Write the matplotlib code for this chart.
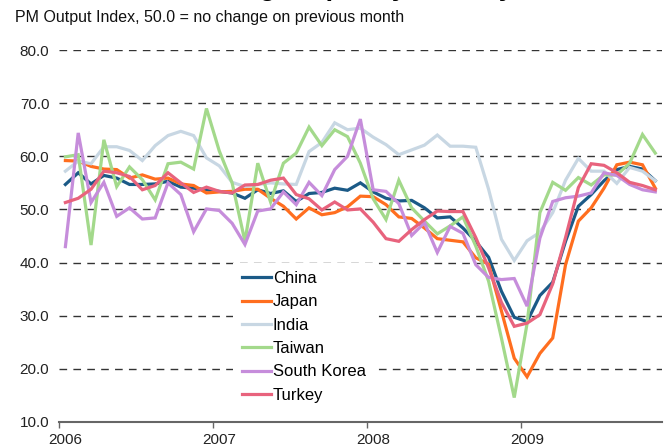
import numpy as np
import matplotlib.pyplot as plt
from matplotlib.ticker import FixedLocator, FuncFormatter

# monthly PMI output index, Jan 2006 .. Nov 2009
china = [54.7, 56.9, 54.8, 56.4, 55.9, 54.7, 54.7, 54.8, 55.3, 54.2, 54.0, 53.7,
         53.4, 53.1, 52.1, 53.7, 53.0, 53.5, 51.5, 53.0, 53.2, 54.0, 53.6, 55.0,
         53.3, 52.1, 51.6, 51.7, 50.3, 48.4, 48.6, 46.5, 44.0, 41.0, 34.6, 29.7,
         28.9, 33.8, 36.3, 44.0, 50.6, 52.8, 55.4, 57.5, 58.1, 57.6, 55.4]
japan = [59.2, 59.1, 58.1, 57.6, 57.5, 55.9, 56.5, 55.7, 55.9, 54.8, 54.5, 53.1,
         53.3, 53.4, 53.8, 53.8, 52.1, 50.6, 48.2, 50.3, 49.0, 49.4, 50.5, 52.5,
         52.4, 50.9, 48.6, 48.3, 46.5, 44.5, 44.2, 43.9, 40.9, 39.7, 30.9, 22.0,
         18.5, 22.9, 25.8, 39.6, 47.8, 50.3, 54.0, 58.4, 58.9, 58.4, 54.0]
india = [57.2, 59.1, 58.6, 61.8, 61.8, 61.1, 59.2, 62.0, 63.9, 64.7, 63.9, 59.7,
         58.2, 55.1, 54.3, 54.7, 55.0, 54.8, 54.7, 60.9, 62.6, 66.3, 65.0, 65.3,
         63.6, 62.2, 60.3, 61.2, 62.1, 64.0, 61.9, 61.9, 61.7, 53.8, 44.4, 40.4,
         44.1, 45.7, 49.4, 55.5, 59.6, 57.2, 57.2, 54.9, 57.9, 57.2, 55.4]
taiwan = [59.9, 60.3, 43.3, 63.1, 54.3, 58.0, 55.6, 51.8, 58.6, 58.9, 57.6, 69.0,
          61.0, 55.0, 44.0, 58.7, 51.4, 58.7, 60.6, 65.5, 62.0, 65.0, 63.7, 58.7,
          52.0, 48.1, 55.5, 50.3, 47.8, 45.4, 46.9, 48.6, 43.1, 36.5, 25.8, 14.6,
          28.5, 49.4, 55.1, 53.6, 56.0, 54.6, 56.5, 56.5, 58.7, 64.1, 60.6]
south_korea = [43.0, 64.4, 51.3, 55.1, 48.7, 50.3, 48.2, 48.4, 55.0, 52.8, 45.8, 50.1,
               49.8, 47.4, 43.4, 49.7, 50.1, 53.3, 50.9, 55.1, 52.6, 57.5, 60.0, 67.0,
               53.7, 53.4, 51.1, 45.1, 47.5, 41.9, 46.8, 45.5, 39.6, 37.2, 36.8, 37.0,
               31.8, 44.6, 51.5, 52.2, 52.5, 53.1, 56.9, 56.4, 54.7, 53.7, 53.3]
turkey = [51.3, 52.1, 53.8, 57.2, 56.9, 56.2, 53.7, 54.5, 56.9, 55.0, 53.2, 54.2,
          53.4, 53.1, 54.6, 54.7, 55.5, 55.9, 52.8, 52.0, 49.9, 51.4, 49.9, 50.1,
          47.6, 44.5, 44.0, 46.2, 48.1, 49.7, 49.6, 49.6, 44.7, 39.0, 32.5, 28.0,
          28.6, 30.2, 36.0, 44.7, 54.1, 58.6, 58.3, 56.9, 55.1, 54.5, 53.7]

series = ['China', 'Japan', 'India', 'Taiwan', 'South Korea', 'Turkey']
values = [china, japan, india, taiwan, south_korea, turkey]
colors = ['#1b5a87', '#ff6e1f', '#c8d7e3', '#a3d98b', '#c68ddb', '#e8637d']
years = ['2006', '2007', '2008', '2009']

plt.rcParams['font.family'] = ['Liberation Sans', 'DejaVu Sans']

fig = plt.figure(figsize=(6.68, 4.45), dpi=100)
ax = fig.add_axes([0.0883, 0.0517, 0.9023, 0.8359])

months = np.arange(len(china)) + 0.5
for name, vals, col in zip(series, values, colors):
    ax.plot(months, vals, color=col, lw=2.3, label=name, solid_joinstyle='miter')

ax.set_xlim(0, 47)
ax.set_ylim(10, 80)
ax.set_yticks(np.arange(10, 81, 10))
ax.yaxis.set_major_formatter(FuncFormatter(lambda v, p: f'{v:.1f}'))
for v in range(20, 81, 10):
    ax.axhline(v, color='#333333', lw=1.0, ls=(0, (5.5, 4.5)), zorder=0)

ax.xaxis.set_major_locator(FixedLocator([0, 12, 24, 36]))
ax.xaxis.set_minor_locator(FixedLocator([0.5, 12.5, 24.5, 36.5]))
ax.xaxis.set_major_formatter(FuncFormatter(lambda v, p: ''))
ax.xaxis.set_minor_formatter(FuncFormatter(lambda v, p: years[int(v) // 12]))
ax.tick_params(axis='x', which='major', length=4, width=1, color='#666666', direction='out')
ax.tick_params(axis='x', which='minor', length=0, pad=8, labelsize=11, labelcolor='#222222')
ax.tick_params(axis='y', length=0, pad=7, labelsize=11, labelcolor='#222222')

for s in ['top', 'right', 'left']:
    ax.spines[s].set_visible(False)
ax.spines['bottom'].set_color('#666666')
ax.spines['bottom'].set_linewidth(1.5)

leg = ax.legend(loc='upper left', bbox_to_anchor=(0.289, 0.428), borderaxespad=0,
                frameon=True, fancybox=False, framealpha=1, edgecolor='none',
                facecolor='white', fontsize=12, handlelength=1.75,
                handletextpad=0.12, labelspacing=0.5, borderpad=0.5)
leg.set_zorder(5)

fig.text(0.022, 0.96, 'PM Output Index, 50.0 = no change on previous month',
         fontsize=11.5, color='#111111', va='center', ha='left')
fig.text(0.133, 1.011, 'Manufacturing output by country', fontsize=19.5,
         fontweight='bold', va='baseline', ha='left')

fig.savefig('out.png', dpi=100)
